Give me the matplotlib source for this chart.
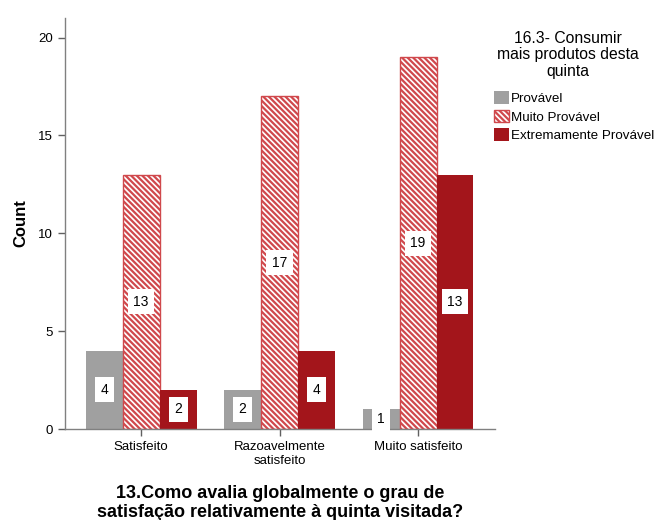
import matplotlib
matplotlib.use("Agg")
import matplotlib.pyplot as plt
import numpy as np

plt.rcParams['font.family'] = ['Liberation Sans', 'DejaVu Sans']
plt.rcParams['hatch.linewidth'] = 1.6

categories = ["Satisfeito", "Razoavelmente\nsatisfeito", "Muito satisfeito"]
series_names = ["Provável", "Muito Provável", "Extremamente Provável"]
provavel = [4, 2, 1]
muito_provavel = [13, 17, 19]
extremamente = [2, 4, 13]
y_ticks = [0, 5, 10, 15, 20]

gray = "#a0a0a0"
hatch_red = "#d0484c"
dark_red = "#a3151b"

fig = plt.figure(figsize=(6.54, 5.2), dpi=100)
ax = fig.add_axes([65/654, 1-429/520, 430/654, 411/520])

x = np.arange(len(categories))
w = 0.267

b1 = ax.bar(x - w, provavel, w, color=gray, linewidth=0, label=series_names[0])
b2 = ax.bar(x, muito_provavel, w, facecolor="white", edgecolor=hatch_red,
            hatch="\\\\\\\\\\\\", linewidth=1.0, label=series_names[1])
b3 = ax.bar(x + w, extremamente, w, color=dark_red, linewidth=0, label=series_names[2])

for bars, vals in [(b1, provavel), (b2, muito_provavel), (b3, extremamente)]:
    for rect, v in zip(bars, vals):
        cx = rect.get_x() + rect.get_width() / 2
        ax.text(cx, v / 2, str(v), ha="center", va="center", fontsize=10,
                color="black",
                bbox=dict(boxstyle="square,pad=0.4", facecolor="white",
                          edgecolor="none"))

ax.set_xlim(-0.55, 2.556)
ax.set_ylim(0, 21)
ax.set_yticks(y_ticks)
ax.set_xticks(x)
ax.set_xticklabels(categories, fontsize=9.5, linespacing=1.15)
ax.tick_params(axis="y", labelsize=9.5, length=5, color="#606060", width=1)
ax.tick_params(axis="x", length=5, color="#606060", width=1, pad=4)

for s in ["top", "right"]:
    ax.spines[s].set_visible(False)
for s in ["left", "bottom"]:
    ax.spines[s].set_color("#808080")
    ax.spines[s].set_linewidth(1.0)

ax.set_ylabel("Count", fontsize=12, fontweight="bold", labelpad=7)
fig.text(280/654, 1-503/520,
         "13.Como avalia globalmente o grau de\nsatisfação relativamente à quinta visitada?",
         ha="center", va="center", fontsize=13, fontweight="bold", linespacing=1.2)

# legend title and entries
fig.text(568/654, 1-55/520, "16.3- Consumir\nmais produtos desta\nquinta",
         ha="center", va="center", fontsize=11.3, linespacing=1.1,
         multialignment="center")
leg = fig.legend(handles=[b1, b2, b3], labels=series_names,
                 loc="upper left", bbox_to_anchor=(494/654, 1-91/520),
                 frameon=False, fontsize=9.6,
                 handlelength=1.1, handleheight=1.1, handletextpad=0.15,
                 labelspacing=0.35, borderaxespad=0, borderpad=0)

fig.savefig("out.png", dpi=100)
